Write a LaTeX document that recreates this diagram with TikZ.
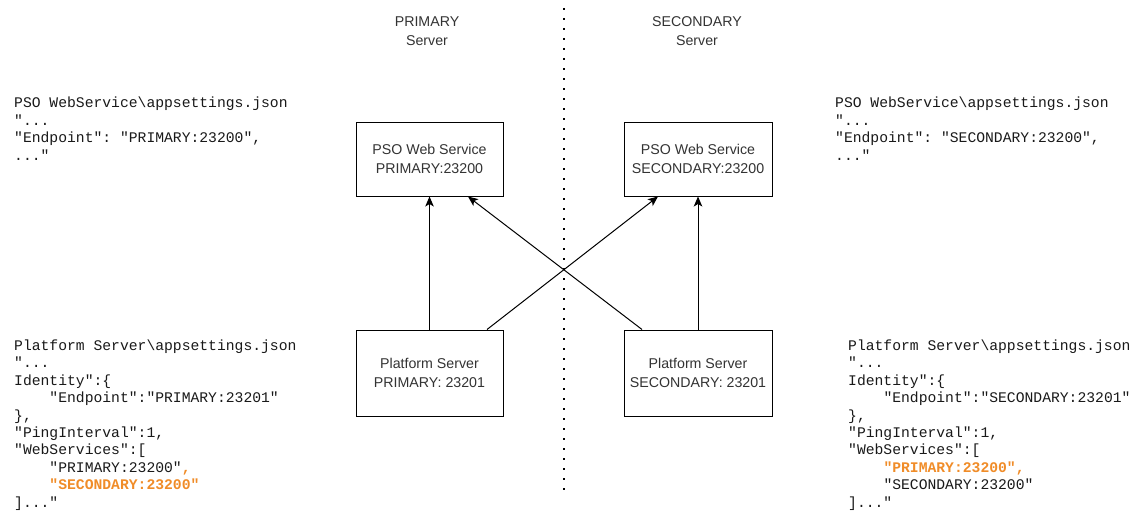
\documentclass[tikz,border=0pt]{standalone}
\usepackage{fontspec}
\setmainfont{Liberation Sans}
\setmonofont{Liberation Mono}
\usetikzlibrary{calc,arrows.meta}
\definecolor{ink}{HTML}{333333}
\definecolor{hl}{RGB}{240,140,40}
\newcommand{\hlt}[1]{\textcolor{hl}{\bfseries #1}}
\newcommand{\ind}{\hphantom{0000}}
\tikzset{
  box/.style={draw=black, line width=1pt, fill=white, inner sep=0pt, minimum width=147pt,
    align=center, text=ink, font=\fontsize{14.2}{18.5}\selectfont},
  title/.style={align=center, text=ink, inner sep=0pt, font=\fontsize{14.2}{18.8}\selectfont},
  code/.style={align=left, inner sep=0pt, anchor=base west, text=black!90,
    font=\ttfamily\fontsize{14.7}{17.4}\selectfont},
  link/.style={draw=black, line width=1pt, -{Stealth[length=10pt,width=8.5pt,inset=2.5pt]}},
}
\begin{document}
\begin{tikzpicture}[x=1pt,y=-1pt]
\useasboundingbox (0,0) rectangle (1139,511);

% server split
\coordinate (splitTop) at (564,8);
\coordinate (splitBot) at (564,494);
\draw[line width=1.8pt, dash pattern=on 1.8pt off 8.2pt] (splitTop) -- (splitBot);

% column titles
\node[title] (tPri) at (427,31.5) {PRIMARY\\Server};
\node[title] (tSec) at (697,31.5) {SECONDARY\\Server};

% services
\node[box, minimum height=74pt] (web1) at (429.5,159) {PSO Web Service\\PRIMARY:23200};
\node[box, minimum height=74pt, minimum width=148pt] (web2) at (698,159) {PSO Web Service\\SECONDARY:23200};
\node[box, minimum height=86pt] (plat1) at (429.5,373) {Platform Server\\PRIMARY: 23201};
\node[box, minimum height=86pt, minimum width=148pt] (plat2) at (698,373) {Platform Server\\SECONDARY: 23201};

% connections
\draw[link] (plat1.north) -- (web1.south);
\draw[link] (plat2.north) -- (web2.south);
\draw[link] ($(plat1.north)+(57.5,0)$) -- ($(web2.south)+(-40,0)$);
\draw[link] ($(plat2.north)+(-56,0)$) -- ($(web1.south)+(38.5,0)$);

% configuration files (anchored at the baseline of their last line)
\node[code] (cfgWeb1) at (14,160) {PSO WebService\textbackslash appsettings.json\\
"...\\
"Endpoint": "PRIMARY:23200",\\
..."};
\node[code] (cfgWeb2) at (835,160) {PSO WebService\textbackslash appsettings.json\\
"...\\
"Endpoint": "SECONDARY:23200",\\
..."};
\node[code] (cfgPlat1) at (14,507) {Platform Server\textbackslash appsettings.json\\
"...\\
Identity":\{\\
\ind"Endpoint":"PRIMARY:23201"\\
\},\\
"PingInterval":1,\\
"WebServices":[\\
\ind"PRIMARY:23200"\hlt{,}\\
\ind\hlt{"SECONDARY:23200"}\\
]..."};
\node[code] (cfgPlat2) at (848,507) {Platform Server\textbackslash appsettings.json\\
"...\\
Identity":\{\\
\ind"Endpoint":"SECONDARY:23201"\\
\},\\
"PingInterval":1,\\
"WebServices":[\\
\ind\hlt{"PRIMARY:23200",}\\
\ind"SECONDARY:23200"\\
]..."};
\end{tikzpicture}
\end{document}
